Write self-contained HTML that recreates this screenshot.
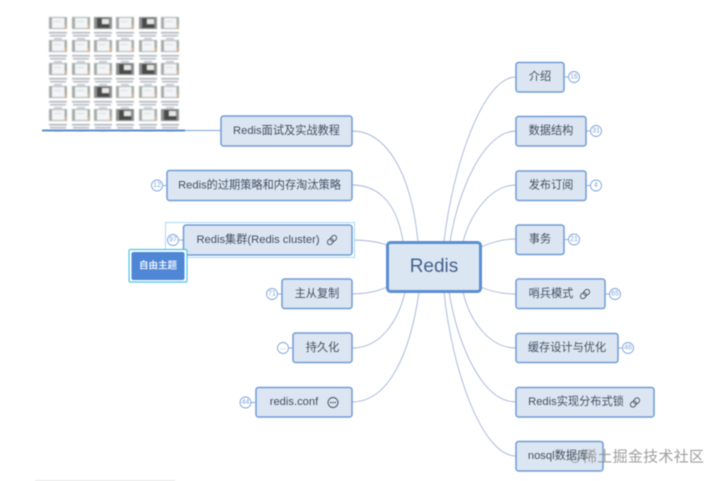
<!DOCTYPE html>
<html>
<head>
<meta charset="utf-8">
<style>
html,body{margin:0;padding:0;background:#fff;width:720px;height:481px;overflow:hidden}
svg{display:block;filter:blur(.45px)}
text{font-family:"Liberation Sans","Noto Sans CJK SC",sans-serif}
.n{fill:#dce6f2;stroke:#6f9bd5;stroke-width:1.5}
.t{font-size:11.2px;fill:#434f62;text-anchor:middle;dominant-baseline:central}
.c{fill:none;stroke:#a4b3d6;stroke-width:.9}
.b{fill:#fff;stroke:#7ea5dc;stroke-width:.9}
.bt{font-size:7px;fill:#7ea5dc;text-anchor:middle;dominant-baseline:central}
.s{stroke:#7ea5dc;stroke-width:.9}
.i{fill:none;stroke:#3f4b5e;stroke-width:.9}
</style>
</head>
<body>
<svg width="720" height="481" viewBox="0 0 720 481" xmlns="http://www.w3.org/2000/svg">
<defs>
<filter id="soft" x="-5%" y="-5%" width="110%" height="110%"><feGaussianBlur stdDeviation=".55"/></filter>
<g id="f">
<rect x="0" y="0" width="18" height="12" fill="#a2aaa8"/>
<rect x="3" y="1" width="12.5" height="10" fill="#f3f5f6"/>
<rect x="5" y="4" width="7" height="1" fill="#d5dbe0"/>
<rect x="15.500" y="8" width="2" height="3" fill="#e6b27a"/>
<rect x="0" y="15" width="18" height="1.500" fill="#a6acb4"/>
<rect x="1" y="18" width="16" height="1.500" fill="#aeb4bc"/>
<rect x="5" y="21" width="8" height="1.500" fill="#bcc1c8"/>
</g>
<g id="d">
<rect x="0" y="0" width="18" height="12" fill="#8d9090"/>
<rect x="3" y="1" width="12.5" height="10" fill="#4a4a4a"/>
<rect x="8" y="2" width="7" height="5" fill="#e8e8e8"/>
<rect x="0" y="15" width="18" height="1.500" fill="#a6acb4"/>
<rect x="1" y="18" width="16" height="1.500" fill="#aeb4bc"/>
<rect x="5" y="21" width="8" height="1.500" fill="#bcc1c8"/>
</g>
<g id="l" class="i" transform="rotate(-45)">
<rect x="-5.500" y="-2.500" width="6.500" height="5" rx="2.500"/>
<rect x="-1" y="-2.500" width="6.500" height="5" rx="2.500"/>
</g>
</defs>

<!-- thumbnails -->
<g filter="url(#soft)">
<use href="#f" x="49" y="17"/><use href="#f" x="72" y="17"/><use href="#d" x="94" y="17"/><use href="#f" x="116" y="17"/><use href="#d" x="139" y="17"/><use href="#f" x="161" y="17"/>
<use href="#f" x="49" y="40"/><use href="#f" x="72" y="40"/><use href="#f" x="94" y="40"/><use href="#f" x="116" y="40"/><use href="#f" x="139" y="40"/><use href="#f" x="161" y="40"/>
<use href="#f" x="49" y="63"/><use href="#f" x="72" y="63"/><use href="#f" x="94" y="63"/><use href="#d" x="116" y="63"/><use href="#d" x="139" y="63"/><use href="#f" x="161" y="63"/>
<use href="#f" x="49" y="86"/><use href="#f" x="72" y="86"/><use href="#d" x="94" y="86"/><use href="#f" x="116" y="86"/><use href="#f" x="139" y="86"/><use href="#f" x="161" y="86"/>
<use href="#f" x="49" y="109"/><use href="#f" x="72" y="109"/><use href="#f" x="94" y="109"/><use href="#d" x="116" y="109"/><use href="#f" x="139" y="109"/><use href="#d" x="161" y="109"/>
</g>
<rect x="42" y="129.500" width="143" height="2" fill="#5f8dcb"/>
<line x1="185" y1="130.500" x2="221" y2="130.500" stroke="#7ea5dc" stroke-width="1"/>
<rect x="35" y="480" width="140" height="1" fill="#e6e6e6"/>

<!-- connectors -->
<path class="c" d="M352 131C385 131 411 170 418 242"/>
<path class="c" d="M352 185C382 185 398 208 403 242"/>
<path class="c" d="M352 240C365 240 376 241 387 245"/>
<path class="c" d="M352 294C365 294 376 292 387 287"/>
<path class="c" d="M352 348C380 348 398 322 405 292"/>
<path class="c" d="M352 402C388 402 410 355 419 292"/>
<path class="c" d="M444 242C452 170 482 77 516 77"/>
<path class="c" d="M450 242C458 190 484 131 516 131"/>
<path class="c" d="M463 242C470 215 490 185 516 185"/>
<path class="c" d="M481 247C492 242 503 239 516 239"/>
<path class="c" d="M481 287C492 292 503 294 516 294"/>
<path class="c" d="M463 292C470 322 490 348 516 348"/>
<path class="c" d="M449 292C458 345 482 402 516 402"/>
<path class="c" d="M444 292C452 370 482 456 516 456"/>

<!-- selection -->
<rect x="165.500" y="222.500" width="189" height="35" fill="#fff" stroke="#a6dcf6" stroke-width="1"/>

<!-- left nodes -->
<rect class="n" x="221" y="116" width="131" height="30" rx="2.500"/>
<text class="t" x="286.500" y="131">Redis面试及实战教程</text>
<rect class="n" x="167" y="170.500" width="185" height="30" rx="2.500"/>
<text class="t" x="259.500" y="185.500">Redis的过期策略和内存淘汰策略</text>
<rect class="n" x="183.500" y="225" width="168.500" height="30" rx="2.500"/>
<text class="t" x="258" y="240">Redis集群(Redis cluster)</text>
<use href="#l" transform="translate(332 240)"/>
<rect class="n" x="282" y="279" width="70" height="29.500" rx="2.500"/>
<text class="t" x="317" y="294">主从复制</text>
<rect class="n" x="293" y="333" width="59" height="29.500" rx="2.500"/>
<text class="t" x="322.500" y="348">持久化</text>
<rect class="n" x="256" y="387.500" width="96" height="29.500" rx="2.500"/>
<text class="t" x="294" y="402">redis.conf</text>
<circle class="i" cx="333" cy="402.500" r="5"/>
<circle cx="330.800" cy="402.500" r=".8" fill="#3f4b5e"/><circle cx="333" cy="402.500" r=".8" fill="#3f4b5e"/><circle cx="335.200" cy="402.500" r=".8" fill="#3f4b5e"/>

<!-- left badges -->
<line class="s" x1="163" y1="185.500" x2="167" y2="185.500"/><circle class="b" cx="157" cy="185.500" r="5.500"/><text class="bt" x="157" y="185.500">12</text>
<line class="s" x1="179" y1="240" x2="183" y2="240"/><circle class="b" cx="173" cy="240" r="5.500"/><text class="bt" x="173" y="240">97</text>
<line class="s" x1="278" y1="294" x2="282" y2="294"/><circle class="b" cx="272" cy="294" r="5.500"/><text class="bt" x="272" y="294">71</text>
<line class="s" x1="289" y1="348" x2="293" y2="348"/><circle class="b" cx="283" cy="348" r="5.500"/><text class="bt" x="283" y="348">…</text>
<line class="s" x1="251" y1="402.500" x2="256" y2="402.500"/><circle class="b" cx="245.500" cy="402.500" r="5.500"/><text class="bt" x="245.500" y="402.500">44</text>

<!-- floating topic -->
<rect x="129" y="249.500" width="58" height="32.500" rx="1.500" fill="#fff" stroke="#4cc4ea" stroke-width="1.200"/>
<rect x="131.500" y="252" width="53" height="28" rx="2" fill="#4f86d6"/>
<text x="158" y="266" font-size="9.500" font-weight="bold" fill="#e8f0fb" text-anchor="middle" dominant-baseline="central">自由主题</text>

<!-- right nodes -->
<rect class="n" x="516" y="62.500" width="48" height="29.500" rx="2.500"/>
<text class="t" x="540" y="77">介绍</text>
<rect class="n" x="516" y="116.500" width="70" height="29.500" rx="2.500"/>
<text class="t" x="551" y="131">数据结构</text>
<rect class="n" x="516" y="171" width="70" height="29.500" rx="2.500"/>
<text class="t" x="551" y="185.500">发布订阅</text>
<rect class="n" x="516" y="225" width="48" height="29.500" rx="2.500"/>
<text class="t" x="540" y="239.500">事务</text>
<rect class="n" x="516" y="279" width="89" height="29.500" rx="2.500"/>
<text class="t" x="551" y="294">哨兵模式</text>
<use href="#l" transform="translate(585 294)"/>
<rect class="n" x="516" y="333.500" width="102" height="29" rx="2.500"/>
<text class="t" x="567" y="348">缓存设计与优化</text>
<rect class="n" x="516" y="387.500" width="138" height="29.500" rx="2.500"/>
<text class="t" x="576" y="402">Redis实现分布式锁</text>
<use href="#l" transform="translate(635 402.500)"/>
<rect class="n" x="516" y="441.500" width="87" height="29.500" rx="2.500"/>
<text class="t" x="558" y="456">nosql数据库</text>

<!-- right badges -->
<line class="s" x1="564" y1="77" x2="568" y2="77"/><circle class="b" cx="574" cy="77" r="5.500"/><text class="bt" x="574" y="77">16</text>
<line class="s" x1="586" y1="131" x2="590" y2="131"/><circle class="b" cx="596" cy="131" r="5.500"/><text class="bt" x="596" y="131">31</text>
<line class="s" x1="586" y1="185.500" x2="590" y2="185.500"/><circle class="b" cx="596" cy="185.500" r="5.500"/><text class="bt" x="596" y="185.500">4</text>
<line class="s" x1="564" y1="239.500" x2="568" y2="239.500"/><circle class="b" cx="574" cy="239.500" r="5.500"/><text class="bt" x="574" y="239.500">21</text>
<line class="s" x1="605" y1="294" x2="609" y2="294"/><circle class="b" cx="615" cy="294" r="5.500"/><text class="bt" x="615" y="294">65</text>
<line class="s" x1="618" y1="348" x2="622" y2="348"/><circle class="b" cx="628" cy="348" r="5.500"/><text class="bt" x="628" y="348">46</text>

<!-- central -->
<rect x="387.500" y="242.500" width="93" height="49" rx="3" fill="#dbe6f3" stroke="#5c8fd1" stroke-width="3"/>
<text x="434" y="266.500" font-size="19px" fill="#46608c" text-anchor="middle" dominant-baseline="central">Redis</text>

<!-- watermark -->
<circle cx="575" cy="458" r="4.500" fill="none" stroke="#9a9a9a" stroke-width="1"/>
<text x="582" y="457" font-size="15px" fill="#8d8d8d" fill-opacity=".85" dominant-baseline="central" textLength="122">稀土掘金技术社区</text>
</svg>
</body>
</html>
